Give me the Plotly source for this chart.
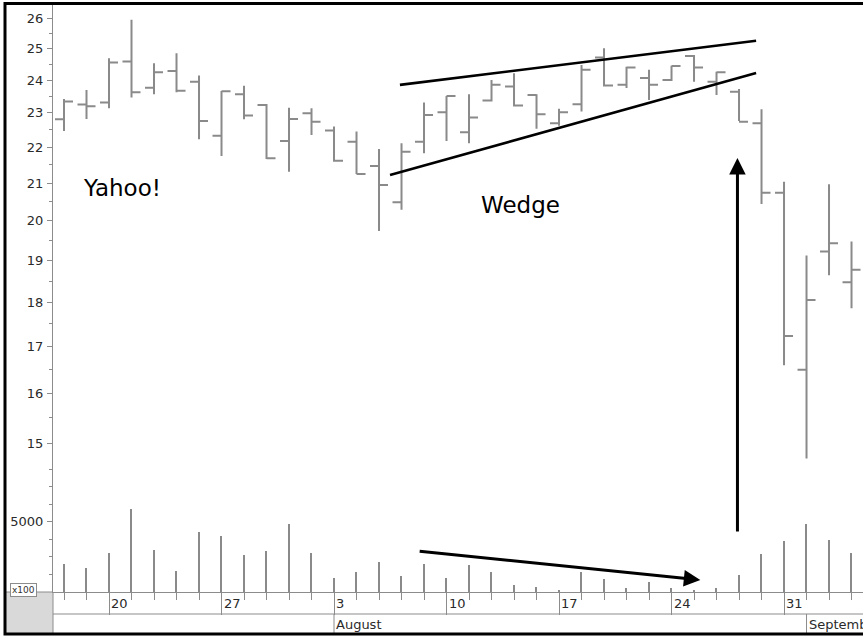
import plotly.graph_objects as go

# ---------------- data (Yahoo!, Jul 16 - Sep 3 1998, daily) ----------------
days = ["Jul 16", "Jul 17", "Jul 20", "Jul 21", "Jul 22", "Jul 23", "Jul 24",
        "Jul 27", "Jul 28", "Jul 29", "Jul 30", "Jul 31", "Aug 3", "Aug 4",
        "Aug 5", "Aug 6", "Aug 7", "Aug 10", "Aug 11", "Aug 12", "Aug 13",
        "Aug 14", "Aug 17", "Aug 18", "Aug 19", "Aug 20", "Aug 21", "Aug 24",
        "Aug 25", "Aug 26", "Aug 27", "Aug 28", "Aug 31", "Sep 1", "Sep 2", "Sep 3"]
open_ = [22.81, 23.25, 23.31, 24.58, 23.76, 24.28, 23.95, 22.33, 23.56, 23.24, 22.18, 22.99,
         22.48, 22.16, 21.47, 20.49, 22.16, 23.02, 22.43, 23.37, 23.80, 23.54, 22.69, 23.26,
         24.71, 23.85, 24.06, 24.00, 24.76, 23.95, 23.64, 22.69, 20.74, 16.49, 19.22, 18.47]
high = [23.42, 23.69, 24.69, 25.95, 24.53, 24.85, 24.14, 23.66, 23.82, 23.27, 23.15, 23.14,
        22.60, 22.45, 21.95, 22.11, 23.31, 23.51, 23.56, 24.00, 24.21, 23.56, 23.12, 24.47,
        25.01, 24.42, 24.32, 24.45, 24.79, 24.26, 23.72, 23.11, 21.04, 19.12, 20.97, 19.47]
low = [22.47, 22.82, 23.14, 23.46, 23.56, 23.62, 22.23, 21.75, 22.81, 21.67, 21.31, 22.35,
       21.59, 21.25, 19.74, 20.29, 21.83, 22.18, 22.11, 23.34, 23.19, 22.53, 22.62, 23.04,
       23.80, 23.75, 23.39, 23.97, 23.95, 23.54, 22.76, 20.44, 16.59, 14.70, 18.64, 17.86]
close = [23.34, 23.20, 24.55, 23.62, 24.24, 23.67, 22.76, 23.65, 22.92, 21.69, 22.82, 22.74,
         21.62, 21.25, 20.95, 21.87, 22.94, 23.51, 22.86, 23.85, 23.22, 22.96, 23.02, 24.32,
         23.83, 24.39, 23.85, 24.44, 24.39, 24.24, 22.74, 20.74, 17.23, 18.05, 19.43, 18.77]
volume = [1970, 1685, 2750, 5880, 2990, 1490, 4270, 3980, 2630, 2920, 4810, 2770,
          970, 1400, 2160, 1140, 1990, 970, 1940, 1400, 520, 360, 150, 1400,
          900, 310, 735, 310, 150, 285, 1230, 2730, 3630, 4810, 3700, 2800]

week_idx = [2, 7, 12, 17, 22, 27, 32]
week_labels = ["20", "27", "3", "10", "17", "24", "31"]
month_idx = [12, 33]
month_labels = ["August", "September"]

price_ticks = [15, 16, 17, 18, 19, 20, 21, 22, 23, 24, 25, 26]
price_minor = [14.5, 15.5, 16.5, 17.5, 18.5, 19.5, 20.5, 21.5, 22.5, 23.5, 24.5, 25.5]
vol_ticks = [5000]
vol_minor = [1250, 2500, 3750, 6250, 7500]

# wedge trendlines (day index, price)
upper_wedge = [(14.93, 23.85), (30.76, 25.25)]
lower_wedge = [(14.49, 21.22), (30.76, 24.22)]
# volume arrow (day index, volume)
vol_arrow = [(15.74, 2916), (28.28, 853)]

x = list(range(len(days)))
GRAY = "#8a8a8a"
AX = "#8c8c8c"
FONT = "DejaVu Sans, Liberation Sans, Arial, sans-serif"

fig = go.Figure()
fig.add_trace(go.Ohlc(x=x, open=open_, high=high, low=low, close=close,
                      xaxis="x", yaxis="y2", tickwidth=0.4,
                      increasing=dict(line=dict(color=GRAY, width=2)),
                      decreasing=dict(line=dict(color=GRAY, width=2)),
                      hoverinfo="skip", showlegend=False))
fig.add_trace(go.Bar(x=x, y=volume, width=0.07, marker=dict(color=GRAY, line=dict(width=0)),
                     xaxis="x", yaxis="y", showlegend=False, hoverinfo="skip"))

PW, PH = 810.0, 587.0  # plot area px
split = 117 / PH

shapes = []
for (a, b) in (upper_wedge, lower_wedge):
    shapes.append(dict(type="line", xref="x", yref="y2", x0=a[0], y0=a[1], x1=b[0], y1=b[1],
                       line=dict(color="black", width=2.6)))
# date band
row_y = -22 / PH
bot_y = -42 / PH
shapes.append(dict(type="line", xref="paper", yref="paper", x0=0, x1=1.2, y0=row_y, y1=row_y,
                   line=dict(color=AX, width=1)))
for mi in month_idx:
    shapes.append(dict(type="line", xref="x", yref="paper", x0=mi, x1=mi, y0=row_y, y1=bot_y,
                       line=dict(color=AX, width=1)))
shapes.append(dict(type="rect", xref="paper", yref="paper", x0=-48 / PW, x1=0, y0=bot_y, y1=0,
                   fillcolor="#d9d9d9", line=dict(color=AX, width=1), layer="below"))
# outer frame
shapes.append(dict(type="rect", xref="paper", yref="paper", x0=-48 / PW, x1=1.1,
                   y0=bot_y, y1=(592 - 3.5) / PH, line=dict(color="black", width=3),
                   fillcolor="rgba(0,0,0,0)", layer="above"))

axfont = dict(family=FONT, size=13, color="#2a2a2a")
ann = []
for wi, wl in zip(week_idx, week_labels):
    ann.append(dict(xref="x", yref="paper", x=wi, y=-11 / PH, text=wl, showarrow=False,
                    xanchor="left", yanchor="middle", xshift=0, font=axfont))
for mi, ml in zip(month_idx, month_labels):
    ann.append(dict(xref="x", yref="paper", x=mi, y=-32 / PH, text=ml, showarrow=False,
                    xanchor="left", yanchor="middle", xshift=0, font=axfont))
ann.append(dict(xref="paper", yref="paper", x=-30 / PW, y=2 / PH, text="x100", showarrow=False,
                xanchor="center", yanchor="middle", bgcolor="white", bordercolor=AX,
                borderwidth=1, borderpad=1, font=dict(family=FONT, size=9, color="#333")))
ann.append(dict(xref="paper", yref="paper", x=(122 - 53) / PW, y=(592 - 188) / PH, text="Yahoo!",
                xanchor="center", yanchor="middle",
                showarrow=False, font=dict(family=FONT, size=23, color="black")))
ann.append(dict(xref="paper", yref="paper", x=(520 - 53) / PW, y=(592 - 205) / PH, text="Wedge",
                xanchor="center", yanchor="middle",
                showarrow=False, font=dict(family=FONT, size=23, color="black")))
# vertical arrow
ann.append(dict(xref="x", yref="paper", x=29.93, y=(592 - 158) / PH, ax=0, ay=375,
                axref="pixel", ayref="pixel", text="", showarrow=True, arrowhead=2,
                arrowsize=1.1, arrowwidth=3, arrowcolor="black", standoff=0))
# volume arrow
ann.append(dict(xref="x", yref="y", x=vol_arrow[1][0], y=vol_arrow[1][1],
                axref="x", ayref="y", ax=vol_arrow[0][0], ay=vol_arrow[0][1],
                text="", showarrow=True, arrowhead=2, arrowsize=1.1, arrowwidth=3,
                arrowcolor="black", standoff=0))

fig.update_layout(
    width=863, height=636, margin=dict(l=53, r=0, t=5, b=44, autoexpand=False),
    paper_bgcolor="white", plot_bgcolor="white", showlegend=False,
    xaxis=dict(range=[-0.489, 35.51], anchor="y", rangeslider=dict(visible=False),
               showgrid=False, zeroline=False, showline=True, linecolor=AX, linewidth=1,
               tickmode="array", tickvals=week_idx, ticks="outside", ticklen=22,
               tickcolor=AX, showticklabels=False,
               minor=dict(dtick=1, tick0=0, ticks="outside", ticklen=7, tickcolor=AX)),
    yaxis=dict(domain=[0, split], range=[0, 8321], showgrid=False, zeroline=False,
               showline=True, linecolor=AX, ticks="outside", ticklen=5, tickcolor=AX,
               tickmode="array", tickvals=vol_ticks, ticktext=["5000"], tickfont=axfont,
               ticklabelstandoff=1,
               minor=dict(tickmode="array", tickvals=vol_minor, ticks="outside",
                          ticklen=3, tickcolor=AX)),
    yaxis2=dict(domain=[split, 1], type="log", range=[1.1581, 1.4224], anchor="x",
                showgrid=False, zeroline=False, showline=True, linecolor=AX,
                ticks="outside", ticklen=5, tickcolor=AX, tickmode="array",
                tickvals=price_ticks, ticktext=[str(t) for t in price_ticks],
                tickfont=axfont, ticklabelstandoff=1,
                minor=dict(tickmode="array", tickvals=price_minor, ticks="outside",
                           ticklen=3, tickcolor=AX)),
    shapes=shapes, annotations=ann, bargap=0,
)
fig.write_html("out.html", config={"displayModeBar": False},
               post_script="document.body.style.margin='0';document.body.style.overflow='hidden';")
